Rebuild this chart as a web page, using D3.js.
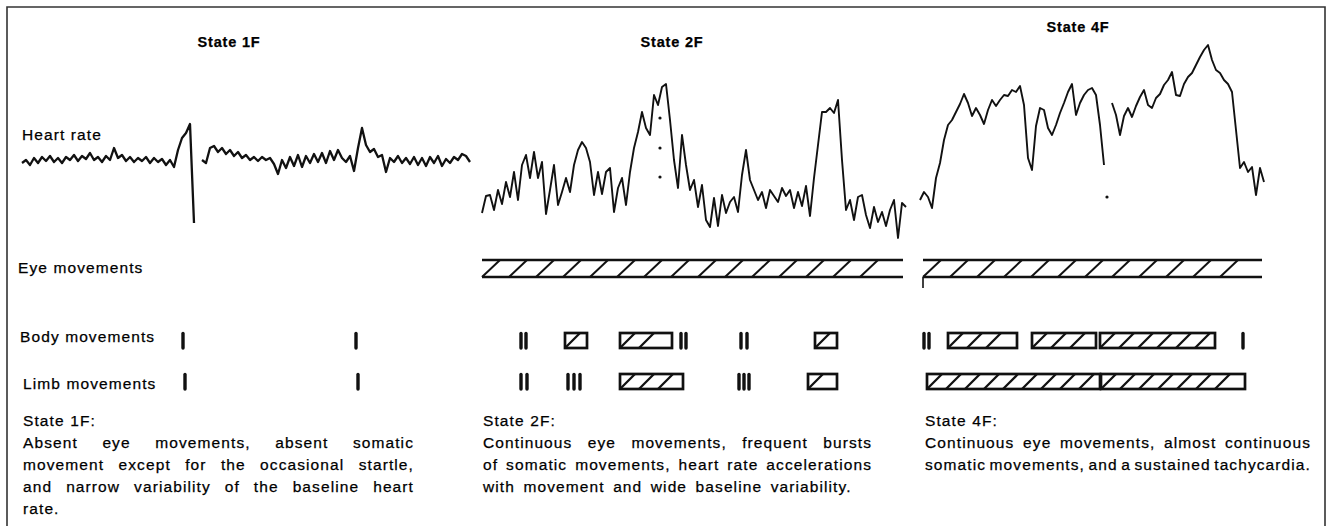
<!DOCTYPE html>
<html>
<head>
<meta charset="utf-8">
<script src="https://cdn.jsdelivr.net/npm/d3@7"></script>
<style>
  html, body { margin: 0; padding: 0; background: #fff; }
  svg { display: block; }
  text { font-family: "Liberation Sans", Arial, sans-serif; fill: #000; stroke: #000; stroke-width: 0.25px; }
</style>
</head>
<body>
<svg id="chart" width="1330" height="526"></svg>
<script>
// ---- data -------------------------------------------------------------
const stateTitles = ["State 1F", "State 2F", "State 4F"];
const rowLabels = ["Heart rate", "Eye movements", "Body movements", "Limb movements"];

// fetal heart rate (bpm), one reading per time step, null = signal lost
const hr1F = [118.5, 120, 117.5, 121, 118.5, 121.5, 119.5, 122, 119, 121, 118.5, 121.5, 120, 122.5, 119.5, 122,
  120.5, 123.5, 120, 121.5, 119, 122, 120, 126, 121, 122.5, 119.5, 121.5, 119, 121, 119.5, 121.5,
  118.5, 121, 119, 120.5, 117.5, 120, 116.5, 125, 131, 133.5, 138, 88.5, null, 120, 118.5, 126,
  127, 124, 126, 123, 125, 122, 124, 121, 122.5, 120, 121.5, 119.5, 121.5, 120, 121, 118,
  113, 120, 116, 121.5, 117, 122.5, 116.5, 122, 118.5, 123, 119, 123.5, 118.5, 124.5, 120, 125,
  121, 119, 122, 114.5, 126, 136, 127.5, 124, 125.5, 121.5, 122.5, 114, 121, 119, 122, 118.5,
  121, 118, 121.5, 117.5, 121, 117, 121.5, 118.5, 122, 117, 120.5, 118.5, 121.5, 120, 123, 122, 119];

const hr2F = [93.5, 102, 102.5, 95, 105, 98, 109, 101.5, 114, 100, 117.5, 122.5, 111, 124, 111, 119,
  93, 105, 117.5, 97.5, 104, 111, 104, 117.5, 125, 129, 126, 119, 102.5, 114, 103, 114,
  116, 94, 106, 111, 97.5, 114, 126, 134, 144, 136, 132.5, 152.5, 147.5, 156.5, 158, 140,
  120, 106, 132.5, 117.5, 105, 110, 96.5, 107.5, 90, 86.5, 101, 87, 102.5, 93.5, 99, 101.5,
  94, 112.5, 125, 110, 105, 100, 104, 96, 105, 102, 99, 106, 102, 105, 96, 104,
  97, 107, 92, 111, 127.5, 144, 144, 146, 143.5, 150, 120, 95, 100, 90, 101.5, 102.5,
  92.5, 86, 96.5, 89, 94, 87, 95, 100, 81, 98.5, 96.5];

const hr4F = [100, 104, 101.5, 96, 111, 118.5, 130, 137.5, 140, 144, 148, 153, 148.5, 142, 146, 142.5,
  138, 145, 150, 147, 150, 152.5, 152, 155, 154, 157, 147.5, 121, 115, 137, 146, 145,
  136, 132.5, 137.5, 143.5, 148.5, 154, 158, 142.5, 148.5, 152.5, 155, 156, 152.5, 137.5, 117.5, null,
  148.5, 142.5, 132.5, 142, 146, 141.5, 147, 151.5, 155, 147.5, 146, 151, 153, 157.5, 160, 164,
  152.5, 152, 158, 161.5, 163.5, 167.5, 171.5, 175, 177.5, 170, 165, 163.5, 160, 158, 154, 135,
  116, 119, 114, 116.5, 102.5, 116, 109];

// isolated recorder dots [time step, bpm]
const dots2F = [[44.5, 141], [44.5, 126], [44.5, 111.5]];
const dots4F = [[46.75, 101.5]];

// movement episodes [start, end] in time steps; start === end is a single brief movement
const eye1F = [];
const eye2F = [[0, 105.25]];
const eye4F = [[0.75, 85.5]];
const eyeStart4F = [0.75]; // recorder start mark below the eye bar

const body1F = [[40.25, 40.25], [83.5, 83.5]];
const body2F = [[9.75, 9.75], [11, 11], [20.75, 26.25], [34.5, 47.5], [49.75, 49.75], [51, 51],
  [64.75, 64.75], [66.25, 66.25], [83.25, 88.75]];
const body4F = [[1, 1], [2.25, 2.25], [7, 24.25], [28, 44], [45, 73.75], [80.75, 80.75]];

const limb1F = [[40.75, 40.75], [84, 84]];
const limb2F = [[9.75, 9.75], [11.25, 11.25], [21.5, 21.5], [23, 23], [24.5, 24.5], [34.5, 50.25],
  [64.25, 64.25], [65.5, 65.5], [66.75, 66.75], [81.5, 88.75]];
const limb4F = [[1.75, 45], [45.25, 81.25]];

const caption1F = ["State 1F:",
  "Absent eye movements, absent somatic",
  "movement except for the occasional startle,",
  "and narrow variability of the baseline heart",
  "rate."];
const caption2F = ["State 2F:",
  "Continuous eye movements, frequent bursts",
  "of somatic movements, heart rate accelerations",
  "with movement and wide baseline variability."];
const caption4F = ["State 4F:",
  "Continuous eye movements, almost continuous",
  "somatic movements, and a sustained tachycardia."];

// ---- layout -----------------------------------------------------------
const ink = "#111";
const svg = d3.select("#chart");
const W = 1330, H = 526;
const step = 4; // px per time step

// Frame (open at the bottom, as cut from the page)
svg.append("path")
  .attr("d", `M7,${H} V7 H1325 V${H}`)
  .attr("fill", "none")
  .attr("stroke", "#333")
  .attr("stroke-width", 1.6);

const y = d3.scaleLinear().domain([80, 200]).range([240, 0]);

const rows = {
  eye:  { top: 260, bottom: 277 },
  body: { top: 333, bottom: 348 },
  limb: { top: 374, bottom: 389 }
};

const panels = [
  { title: stateTitles[0], hr: hr1F, dots: [], eye: eye1F, eyeStart: [], body: body1F, limb: limb1F,
    caption: caption1F, x0: 22, titleX: 229, titleY: 47, capX: 23, capW: 391, lastGap: 5.5, lineW: 2.3 },
  { title: stateTitles[1], hr: hr2F, dots: dots2F, eye: eye2F, eyeStart: [], body: body2F, limb: limb2F,
    caption: caption2F, x0: 482, titleX: 672, titleY: 47, capX: 483, capW: 389, lastGap: 8.5, lineW: 1.9 },
  { title: stateTitles[2], hr: hr4F, dots: dots4F, eye: eye4F, eyeStart: eyeStart4F, body: body4F, limb: limb4F,
    caption: caption4F, x0: 920, titleX: 1078, titleY: 32, capX: 925, capW: 386, lastGap: null, lineW: 1.9 }
];

// Row labels on the left
const labelPos = [[22, 140], [18, 273], [20, 342], [23, 389]];
svg.append("g").selectAll("text")
  .data(rowLabels)
  .join("text")
  .attr("x", (d, i) => labelPos[i][0])
  .attr("y", (d, i) => labelPos[i][1])
  .attr("font-size", 15.5)
  .attr("letter-spacing", 1.1)
  .text(d => d);

// Hatched episode (box) or brief tick
function drawEvents(g, events, x, row) {
  events.forEach(([a, b]) => {
    const xa = x(a), xb = x(b);
    if (xb - xa < 2) {
      g.append("line")
        .attr("x1", xa).attr("x2", xa)
        .attr("y1", row.top + 0.5).attr("y2", row.bottom)
        .attr("stroke", ink).attr("stroke-width", 3.4)
        .attr("stroke-linecap", "round");
      return;
    }
    g.append("rect")
      .attr("x", xa).attr("y", row.top)
      .attr("width", xb - xa).attr("height", row.bottom - row.top)
      .attr("fill", "none").attr("stroke", ink).attr("stroke-width", 2.7);
    const dx = Math.min(15, xb - xa);
    for (let h = xa; h + dx <= xb + 0.5; h += 19) {
      g.append("line")
        .attr("x1", h).attr("y1", row.bottom)
        .attr("x2", h + dx).attr("y2", row.top)
        .attr("stroke", ink).attr("stroke-width", 2.3);
    }
  });
}

// Continuous eye-movement bar: two rails with slanted hatching
function drawEyeBar(g, events, marks, x, row) {
  events.forEach(([a, b]) => {
    const xa = x(a), xb = x(b);
    [row.top, row.bottom].forEach(yy => {
      g.append("line")
        .attr("x1", xa).attr("x2", xb)
        .attr("y1", yy).attr("y2", yy)
        .attr("stroke", ink).attr("stroke-width", 2.6);
    });
    for (let h = xa; h + 18 <= xb + 1; h += 27) {
      g.append("line")
        .attr("x1", h).attr("y1", row.bottom)
        .attr("x2", h + 18).attr("y2", row.top)
        .attr("stroke", ink).attr("stroke-width", 2);
    }
  });
  marks.forEach(m => {
    g.append("line")
      .attr("x1", x(m)).attr("x2", x(m))
      .attr("y1", row.bottom).attr("y2", row.bottom + 11)
      .attr("stroke", ink).attr("stroke-width", 1.6);
  });
}

// Justified caption lines; last line justified only when lastGap is null
function drawCaption(g, lines, x0, w, y0, lastGap) {
  lines.forEach((line, li) => {
    const yy = y0 + li * 22;
    const t = g.append("text").attr("y", yy)
      .attr("font-size", 15.5).attr("letter-spacing", 1.1);
    const words = line.split(" ");
    const spans = words.map(wd => t.append("tspan").text(wd));
    const widths = spans.map(s => s.node().getComputedTextLength());
    const isLast = li === lines.length - 1;
    const justify = li > 0 && words.length > 1 && (!isLast || lastGap == null);
    const gap = justify ? (w - d3.sum(widths)) / (words.length - 1) : (isLast ? lastGap : 5.5);
    let cx = x0;
    spans.forEach((s, i) => { s.attr("x", cx); cx += widths[i] + gap; });
  });
}

panels.forEach(p => {
  const g = svg.append("g").attr("class", "panel");
  const x = d3.scaleLinear()
    .domain([0, p.hr.length - 1])
    .range([p.x0, p.x0 + step * (p.hr.length - 1)]);

  g.append("text")
    .attr("x", p.titleX).attr("y", p.titleY)
    .attr("text-anchor", "middle")
    .attr("font-size", 14.5).attr("font-weight", "bold")
    .attr("letter-spacing", 0.8)
    .text(p.title);

  const line = d3.line()
    .defined(d => d != null)
    .x((d, i) => x(i))
    .y(d => y(d));

  g.append("path")
    .datum(p.hr)
    .attr("d", line)
    .attr("fill", "none")
    .attr("stroke", ink)
    .attr("stroke-width", p.lineW)
    .attr("stroke-linejoin", "round");

  g.selectAll("circle.dot")
    .data(p.dots)
    .join("circle")
    .attr("class", "dot")
    .attr("cx", d => x(d[0]))
    .attr("cy", d => y(d[1]))
    .attr("r", 1.6)
    .attr("fill", ink);

  drawEyeBar(g, p.eye, p.eyeStart, x, rows.eye);
  drawEvents(g, p.body, x, rows.body);
  drawEvents(g, p.limb, x, rows.limb);
  drawCaption(g, p.caption, p.capX, p.capW, 426, p.lastGap);
});
</script>
</body>
</html>
